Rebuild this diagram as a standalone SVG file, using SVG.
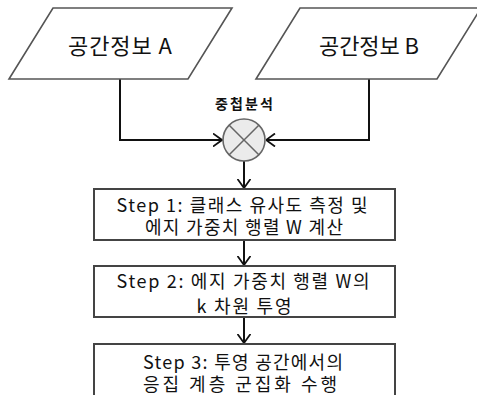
<svg xmlns="http://www.w3.org/2000/svg" width="477" height="395" viewBox="0 0 477 395">
<defs>
<style>
.t{font-family:"Noto Sans CJK KR","Noto Sans",sans-serif;fill:#111;text-anchor:middle;dominant-baseline:central}
.para{fill:#fff;stroke:#555;stroke-width:1.6}
.box{fill:#fff;stroke:#444;stroke-width:2}
.con{fill:none;stroke:#111;stroke-width:2}
</style>
<marker id="arr" viewBox="0 0 10 14" refX="9.5" refY="7" markerWidth="10" markerHeight="14" markerUnits="userSpaceOnUse" orient="auto">
<path d="M0.5,0.5 L9.5,7 L0.5,13.5" fill="none" stroke="#111" stroke-width="1.8"/>
</marker>
</defs>
<rect width="477" height="395" fill="#fff"/>
<g id="connectors">
<polyline class="con" points="120,79 120,140 222,140" marker-end="url(#arr)"/>
<polyline class="con" points="369,79 369,140 266,140" marker-end="url(#arr)"/>
<line class="con" x1="244" y1="161" x2="244" y2="188" marker-end="url(#arr)"/>
<line class="con" x1="244" y1="240" x2="244" y2="265" marker-end="url(#arr)"/>
<line class="con" x1="244" y1="317" x2="244" y2="343" marker-end="url(#arr)"/>
</g>
<g id="nodeA">
<polygon class="para" points="53,8 232,8 188,79 9,79"/>
<text class="t" x="120" y="44" font-size="22" textLength="104" lengthAdjust="spacing">공간정보 A</text>
</g>
<g id="nodeB">
<polygon class="para" points="300,8 481,8 437,79 256,79"/>
<text class="t" x="369" y="44" font-size="22" textLength="100" lengthAdjust="spacing">공간정보 B</text>
</g>
<g id="overlay">
<text class="t" x="244" y="103" font-size="14" font-weight="bold" textLength="58" lengthAdjust="spacing">중첩분석</text>
<circle cx="244" cy="140" r="21" fill="#ebebeb" stroke="#666" stroke-width="1.6"/>
<line x1="229.2" y1="125.2" x2="258.8" y2="154.8" stroke="#666" stroke-width="1.5"/>
<line x1="258.8" y1="125.2" x2="229.2" y2="154.8" stroke="#666" stroke-width="1.5"/>
</g>
<g id="step1">
<rect class="box" x="94" y="189" width="301" height="51"/>
<text class="t" x="242" y="203.5" font-size="18" textLength="251" lengthAdjust="spacing">Step 1: 클래스 유사도 측정 및</text>
<text class="t" x="244" y="225.5" font-size="18" textLength="198" lengthAdjust="spacing">에지 가중치 행렬 W 계산</text>
</g>
<g id="step2">
<rect class="box" x="94" y="266" width="301" height="51"/>
<text class="t" x="243" y="280" font-size="18" textLength="253" lengthAdjust="spacing">Step 2: 에지 가중치 행렬 W의</text>
<text class="t" x="244" y="305" font-size="18" textLength="95" lengthAdjust="spacing">k 차원 투영</text>
</g>
<g id="step3">
<rect class="box" x="94" y="344" width="301" height="70"/>
<text class="t" x="243" y="360.5" font-size="18" textLength="200" lengthAdjust="spacing">Step 3: 투영 공간에서의</text>
<text class="t" x="240" y="383" font-size="18" textLength="194" lengthAdjust="spacing">응집 계층 군집화 수행</text>
</g>
</svg>
